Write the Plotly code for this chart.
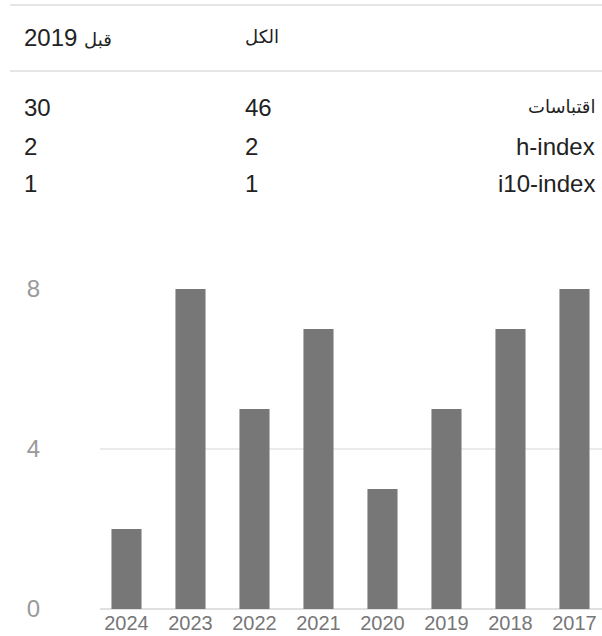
import plotly.graph_objects as go

# ---- data ----
years = ["2024", "2023", "2022", "2021", "2020", "2019", "2018", "2017"]
citations = [2, 8, 5, 7, 3, 5, 7, 8]
y_ticks = [0, 4, 8]

col_headers = ["الكل", "قبل 2019"]
row_labels = ["اقتباسات", "h-index", "i10-index"]
all_values = [46, 2, 1]
since_values = [30, 2, 1]

W, H = 602, 636
FONT = "Arial, 'Liberation Sans', 'DejaVu Sans', sans-serif"
AR_SIZE = 18

def px(x):
    return x / W

def py(y):
    return 1 - y / H

def ar(text):
    # shrink Arabic words, keep digits at full size
    out = []
    for w in text.split(" "):
        if any("\u0600" <= c <= "\u06ff" for c in w):
            out.append(f"<span style='font-size:{AR_SIZE}px'>{w}</span>")
        else:
            out.append(w)
    return " ".join(out)

fig = go.Figure()
fig.add_trace(go.Bar(
    x=years, y=citations,
    marker=dict(color="#777777", line=dict(width=0)),
    width=0.47,
    hoverinfo="x+y",
))

annotations = []
header_y = 37
annotations.append(dict(x=px(243), y=py(header_y), text=ar(col_headers[0]), xanchor="left"))
annotations.append(dict(x=px(22), y=py(header_y), text=ar(col_headers[1]), xanchor="left"))
row_ys = [107, 146, 184]
for lab, a, s, ry in zip(row_labels, all_values, since_values, row_ys):
    annotations.append(dict(x=px(597), y=py(ry), text=ar(lab), xanchor="right"))
    annotations.append(dict(x=px(243), y=py(ry), text=str(a), xanchor="left"))
    annotations.append(dict(x=px(22), y=py(ry), text=str(s), xanchor="left"))
for a in annotations:
    a.update(xref="paper", yref="paper", yanchor="middle", showarrow=False,
             font=dict(family=FONT, size=24, color="#222222"))

shapes = [
    dict(type="line", xref="paper", yref="paper", x0=px(10), x1=1, y0=py(5), y1=py(5),
         line=dict(color="#e5e5e5", width=2)),
    dict(type="line", xref="paper", yref="paper", x0=px(10), x1=1, y0=py(71), y1=py(71),
         line=dict(color="#e5e5e5", width=2)),
]

fig.update_layout(
    width=W, height=H,
    margin=dict(l=0, r=0, t=0, b=0),
    paper_bgcolor="white", plot_bgcolor="white",
    showlegend=False,
    annotations=annotations,
    shapes=shapes,
    xaxis=dict(
        domain=[px(100), 1],
        type="category",
        range=[-0.414, 7.43],
        tickvals=years, ticktext=years,
        tickfont=dict(family=FONT, size=20, color="#777777"),
        showgrid=False, showline=False, ticks="",
        automargin=False,
    ),
    yaxis=dict(
        domain=[py(609), py(289)],
        range=[0, 8],
        tickvals=y_ticks,
        tickfont=dict(family=FONT, size=24, color="#999999"),
        showgrid=True, gridcolor="#ebebeb", gridwidth=1.5,
        zeroline=True, zerolinecolor="#e0e0e0", zerolinewidth=2,
        showline=False, ticks="",
        ticklabelstandoff=59,
        automargin=False,
    ),
)

fig.write_html(
    "out.html",
    config={"displayModeBar": False},
    post_script="document.body.style.margin='0';document.body.style.overflow='hidden';",
)
